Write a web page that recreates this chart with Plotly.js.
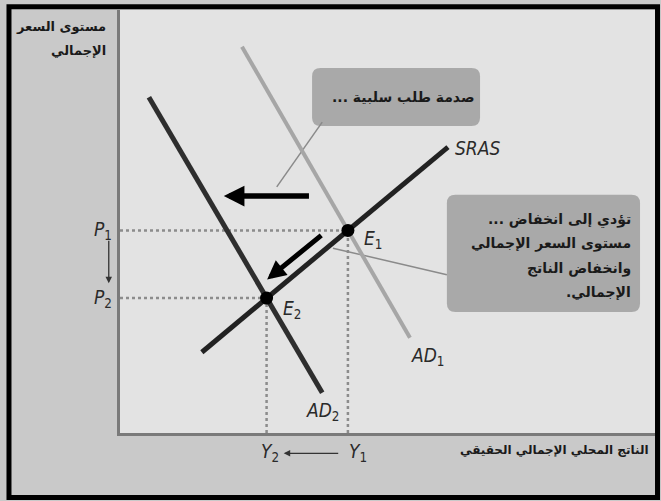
<!DOCTYPE html>
<html>
<head>
<meta charset="utf-8">
<script src="https://cdn.plot.ly/plotly-3.0.1.min.js"></script>
<style>
html,body{margin:0;padding:0;background:#c9c9c9;}
#chart{width:661px;height:501px;}
</style>
</head>
<body>
<div id="chart"></div>
<script>
// ---- data (conceptual units: output 0-100, price level 0-100) ----
const ad1X = [22.8, 54.2];
const ad1Y = [91.3, 22.5];
const ad2X = [5.4, 37.8];
const ad2Y = [79.4, 9.5];
const srasX = [15.3, 61.3];
const srasY = [19.1, 67.6];
const eqNames = ['E1', 'E2'];
const eqX = [42.6, 27.4];   // Y1, Y2
const eqY = [47.9, 31.9];   // P1, P2
const curveLabels = ['<i>AD</i><sub>1</sub>', '<i>AD</i><sub>2</sub>', '<i>SRAS</i>'];
const eqLabels = ['<i>E</i><sub>1</sub>', '<i>E</i><sub>2</sub>'];
const priceLabels = ['<i>P</i><sub>1</sub>', '<i>P</i><sub>2</sub>'];
const outputLabels = ['<i>Y</i><sub>1</sub>', '<i>Y</i><sub>2</sub>'];
const yTitleLines = ['مستوى السعر', 'الإجمالي'];
const xTitle = 'الناتج المحلي الإجمالي الحقيقي';
const callout1 = 'صدمة طلب سلبية ...\u200F';
const callout2Lines = ['... تؤدي إلى انخفاض', 'مستوى السعر الإجمالي', 'وانخفاض الناتج', 'الإجمالي.\u200F'];

// ---- style ----
const arabicFont = {family: 'DejaVu Sans, Noto Sans, sans-serif', size: 13, color: '#1a1a1a', weight: 'bold'};
const labelFont = {family: 'DejaVu Sans Condensed, Liberation Sans Narrow, sans-serif', size: 19, color: '#2a2a2a'};
const dotted = {color: '#8c8c8c', width: 2.5, dash: 'dot'};

const traces = [];
for (let i = 0; i < eqX.length; i++) {
  traces.push({x: [0, eqX[i]], y: [eqY[i], eqY[i]], mode: 'lines', line: dotted, hoverinfo: 'skip'});
  traces.push({x: [eqX[i], eqX[i]], y: [0, eqY[i]], mode: 'lines', line: dotted, hoverinfo: 'skip'});
}
traces.push({x: ad1X, y: ad1Y, mode: 'lines', line: {color: '#a6a6a6', width: 4}, name: 'AD1'});
traces.push({x: ad2X, y: ad2Y, mode: 'lines', line: {color: '#2e2e2e', width: 5}, name: 'AD2'});
traces.push({x: srasX, y: srasY, mode: 'lines', line: {color: '#222', width: 5}, name: 'SRAS'});
traces.push({x: eqX, y: eqY, mode: 'markers', marker: {color: '#000', size: 13}, text: eqNames, hoverinfo: 'text'});

function rrect(x0, x1, y0, y1, rx, ry) {
  return `M${x0+rx},${y0} L${x1-rx},${y0} Q${x1},${y0} ${x1},${y0+ry} L${x1},${y1-ry} Q${x1},${y1} ${x1-rx},${y1} ` +
         `L${x0+rx},${y1} Q${x0},${y1} ${x0},${y1-ry} L${x0},${y0+ry} Q${x0},${y0} ${x0+rx},${y0} Z`;
}

const shapes = [
  {type: 'path', path: rrect(35.9, 67.3, 72.6, 86.3, 1.6, 2.0), fillcolor: '#a9a9a9', line: {width: 0}, layer: 'below'},
  {type: 'path', path: rrect(61.1, 97.2, 28.6, 56.3, 1.6, 2.0), fillcolor: '#a9a9a9', line: {width: 0}, layer: 'below'},
  {type: 'line', x0: 37.8, y0: 73.5, x1: 29.3, y1: 58.2, line: {color: '#8a8a8a', width: 1.5}, layer: 'below'},
  {type: 'line', x0: 61.1, y0: 37.4, x1: 39.8, y1: 43.7, line: {color: '#8a8a8a', width: 1.5}, layer: 'below'},
  {type: 'rect', xref: 'paper', yref: 'paper', x0: -0.2075, x1: 1.0047, y0: -0.1525, y1: 1.0075,
   line: {color: '#000', width: 5}}
];

const P = (v) => v / 100; // data unit -> paper fraction (axes span 0..100 over full domain)

const annotations = [
  {x: 57.4, y: 18.2, text: curveLabels[0], showarrow: false, font: labelFont},
  {x: 37.8, y: 5.0, text: curveLabels[1], showarrow: false, font: labelFont},
  {x: 62.2, y: 67.4, xanchor: 'left', text: curveLabels[2], showarrow: false, font: labelFont},
  {x: 45.3, y: 45.8, xanchor: 'left', text: eqLabels[0], showarrow: false, font: labelFont},
  {x: 30.1, y: 29.3, xanchor: 'left', text: eqLabels[1], showarrow: false, font: labelFont},
  // price labels (outside plot -> paper refs)
  {xref: 'paper', yref: 'paper', x: -0.011, y: P(eqY[0]), xanchor: 'right', yanchor: 'middle', text: priceLabels[0], showarrow: false, font: labelFont},
  {xref: 'paper', yref: 'paper', x: -0.011, y: P(eqY[1]), xanchor: 'right', yanchor: 'middle', text: priceLabels[1], showarrow: false, font: labelFont},
  // output labels
  {xref: 'paper', yref: 'paper', x: P(eqX[0]) + 0.018, y: -0.046, xanchor: 'center', yanchor: 'middle', text: outputLabels[0], showarrow: false, font: labelFont},
  {xref: 'paper', yref: 'paper', x: P(eqX[1]) + 0.006, y: -0.046, xanchor: 'center', yanchor: 'middle', text: outputLabels[1], showarrow: false, font: labelFont},
  // small arrows beside axes
  {xref: 'paper', yref: 'paper', x: -0.021, y: 0.354, ax: 0, ay: -44, text: '', showarrow: true,
   arrowhead: 2, arrowsize: 1, arrowwidth: 1.3, arrowcolor: '#333', standoff: 0},
  {xref: 'paper', yref: 'paper', x: 0.306, y: -0.048, ax: 56, ay: 0, text: '', showarrow: true,
   arrowhead: 2, arrowsize: 1, arrowwidth: 1.3, arrowcolor: '#333', standoff: 0},
  // thick shift arrows
  {x: 19.4, y: 56.0, ax: 35.6, ay: 56.0, axref: 'x', ayref: 'y', text: '', showarrow: true,
   arrowhead: 2, arrowsize: 0.75, arrowwidth: 5.5, arrowcolor: '#000', standoff: 0},
  {x: 27.5, y: 36.3, ax: 37.9, ay: 47.0, axref: 'x', ayref: 'y', text: '', showarrow: true,
   arrowhead: 2, arrowsize: 0.75, arrowwidth: 5, arrowcolor: '#000', standoff: 0},
  // callout texts
  {x: 66.5, y: 79.4, xanchor: 'right', yanchor: 'middle', text: callout1, showarrow: false,
   font: Object.assign({}, arabicFont, {size: 14})},
  // axis titles
  {xref: 'paper', yref: 'paper', x: -0.0224, y: 0.96, xanchor: 'right', yanchor: 'middle',
   text: yTitleLines[0], showarrow: false, font: arabicFont},
  {xref: 'paper', yref: 'paper', x: -0.0224, y: 0.905, xanchor: 'right', yanchor: 'middle',
   text: yTitleLines[1], showarrow: false, font: arabicFont},
  {xref: 'paper', yref: 'paper', x: 0.993, y: -0.04, xanchor: 'right', yanchor: 'middle',
   text: xTitle, showarrow: false, font: Object.assign({}, arabicFont, {size: 12})}
];
const lineY = [50.4, 44.7, 39.0, 33.3];
callout2Lines.forEach((t, i) => annotations.push({
  x: 95.8, y: lineY[i], xanchor: 'right', yanchor: 'middle', text: t, showarrow: false,
  font: Object.assign({}, arabicFont, {size: 14})
}));

const layout = {
  width: 661, height: 501,
  margin: {l: 120, r: 6, t: 10, b: 68},
  paper_bgcolor: '#c9c9c9',
  plot_bgcolor: '#e3e3e3',
  showlegend: false,
  xaxis: {range: [0, 100], showgrid: false, zeroline: false, showticklabels: false, ticks: '',
          showline: true, linecolor: '#7a7a7a', linewidth: 3, fixedrange: true},
  yaxis: {range: [0, 100], showgrid: false, zeroline: false, showticklabels: false, ticks: '',
          showline: true, linecolor: '#7a7a7a', linewidth: 3, fixedrange: true},
  shapes: shapes,
  annotations: annotations
};

Plotly.newPlot('chart', traces, layout, {displayModeBar: false, staticPlot: true});
</script>
</body>
</html>
